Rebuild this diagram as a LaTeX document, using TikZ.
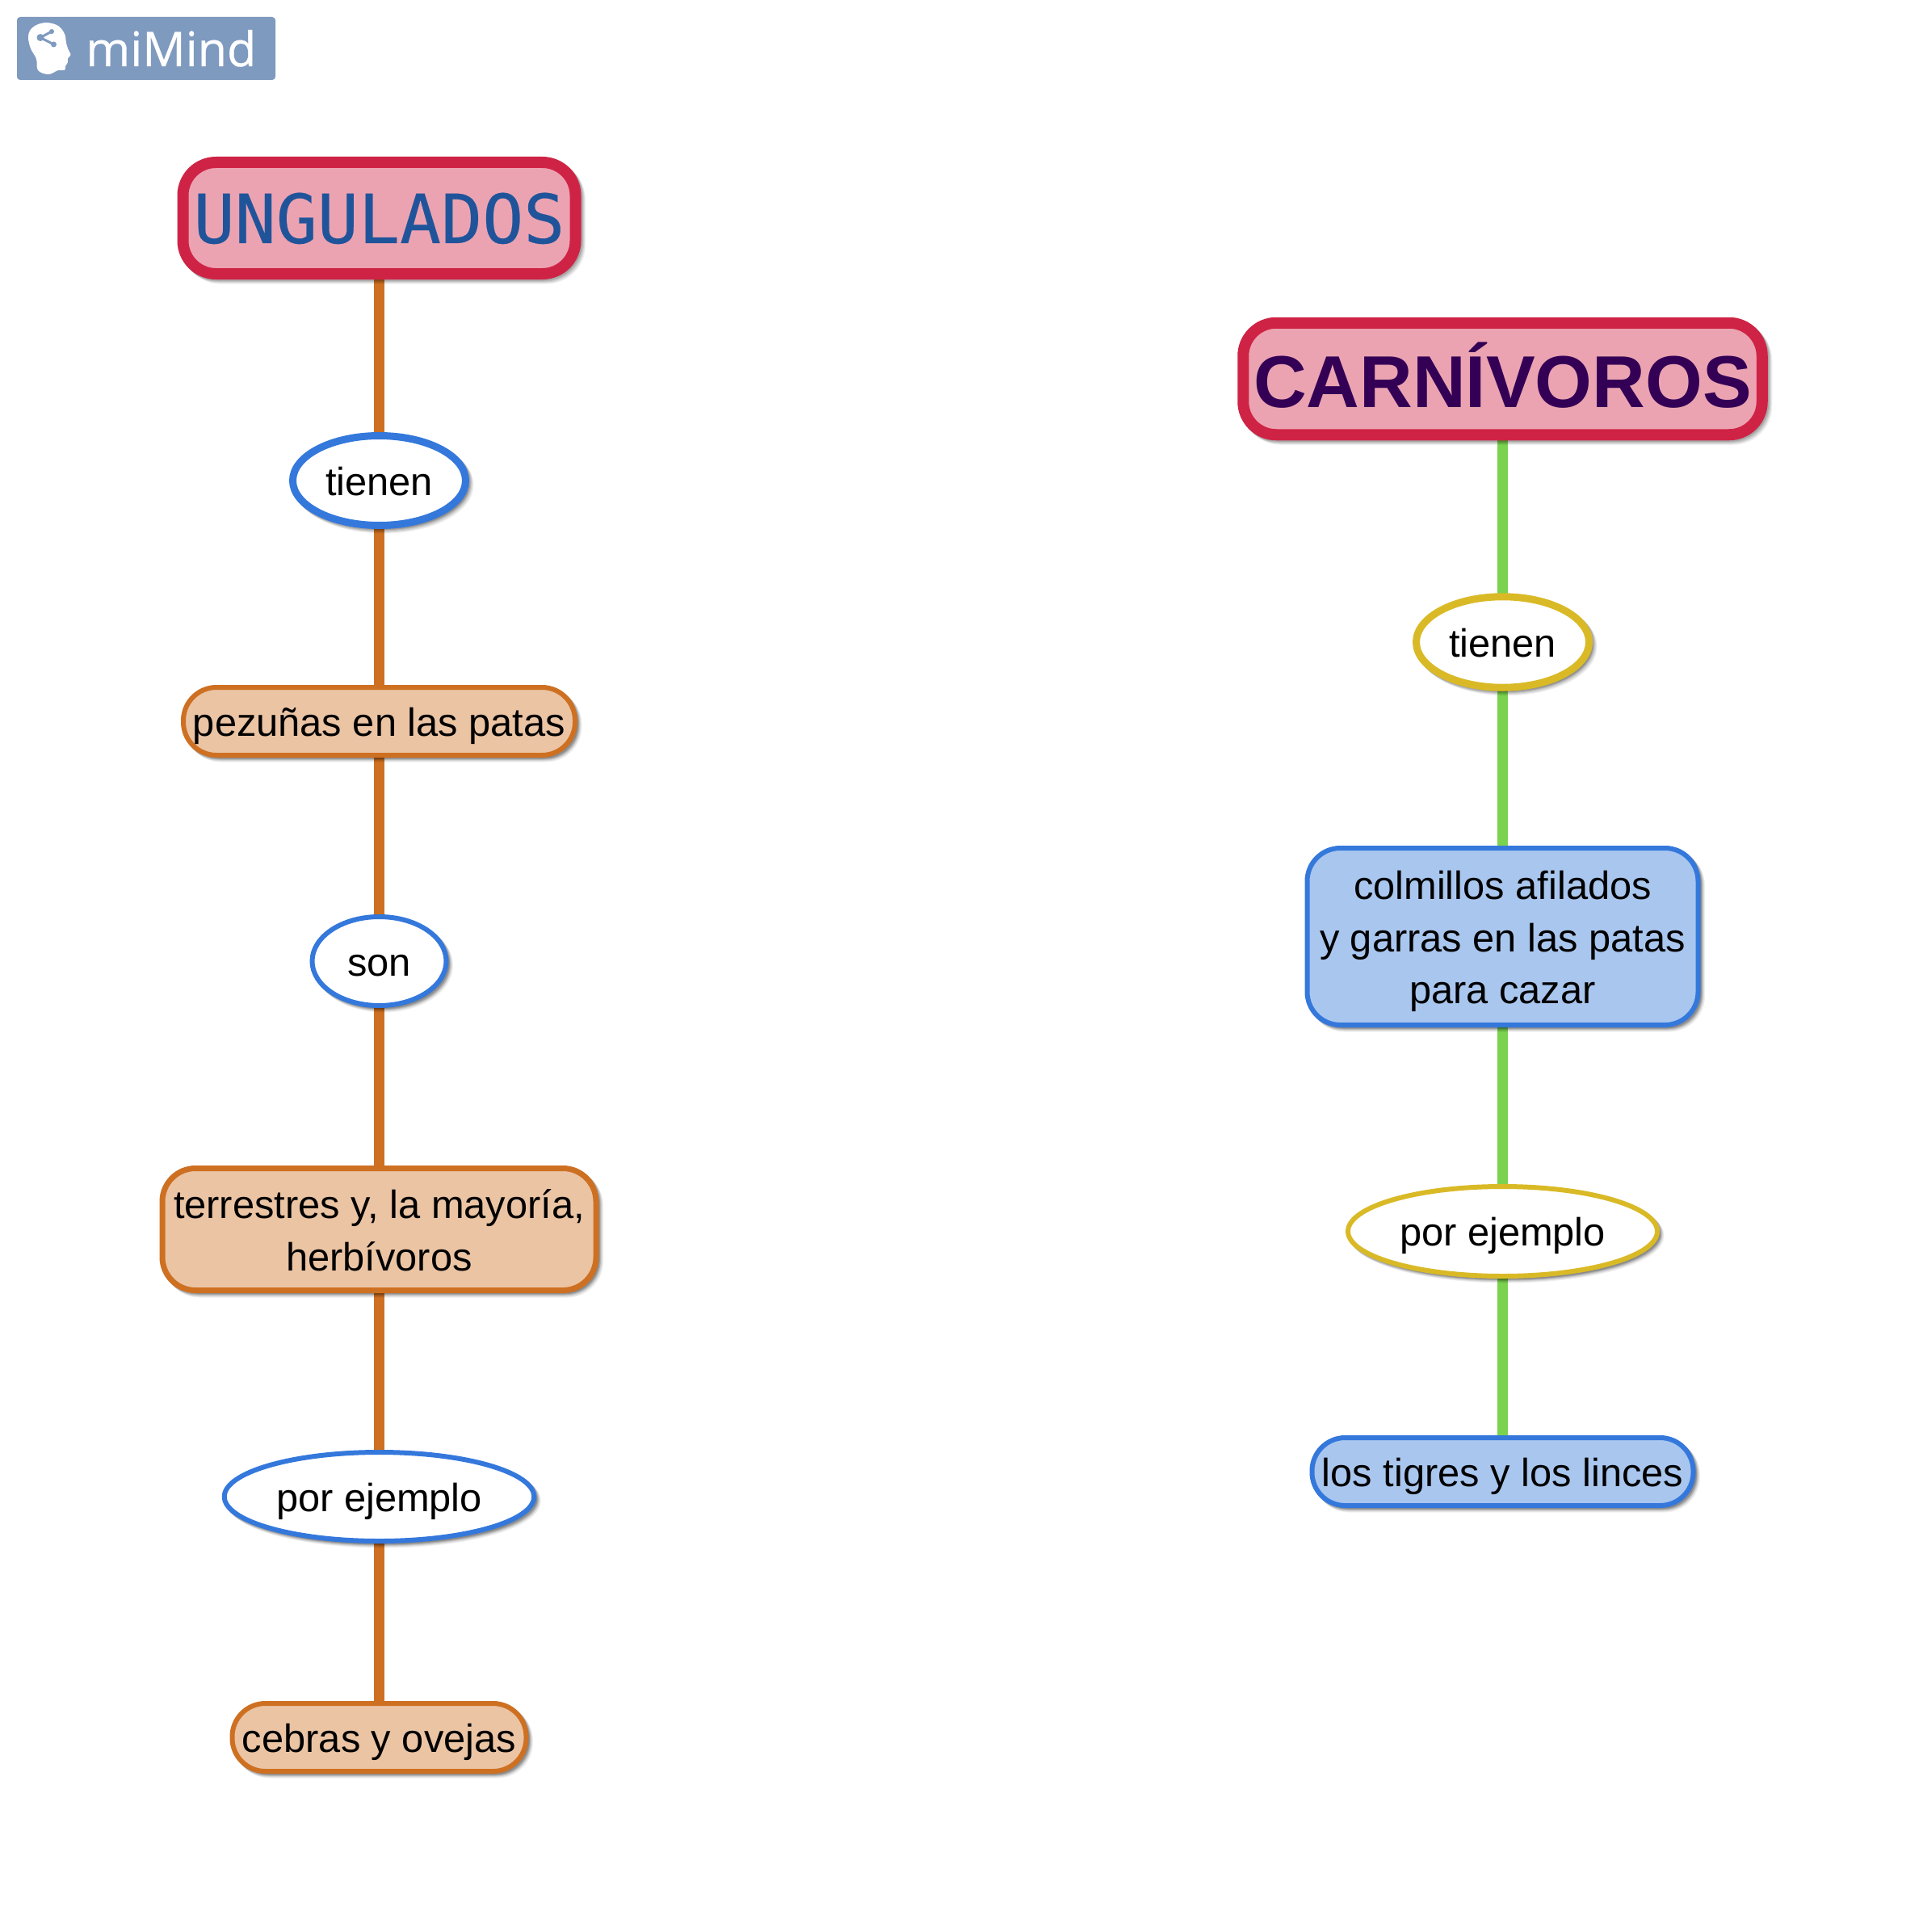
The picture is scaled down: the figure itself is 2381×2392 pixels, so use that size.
\documentclass[tikz,border=0pt]{standalone}
\usepackage{fontspec}
\setmainfont{Liberation Sans}
\newfontfamily\logofont[FakeBold=0.6]{Open Sans}
\newfontfamily\ungfont[FakeStretch=1.01,FakeBold=0.3]{DejaVu Sans Mono}
\usetikzlibrary{shapes.geometric,shadows,backgrounds}
\definecolor{orangeC}{HTML}{CE7022}
\definecolor{orangeF}{HTML}{EBC4A4}
\definecolor{redC}{HTML}{CF2345}
\definecolor{redF}{HTML}{ECA3B1}
\definecolor{blueC}{HTML}{3478DC}
\definecolor{blueF}{HTML}{A9C6EE}
\definecolor{yellowC}{HTML}{D9BA26}
\definecolor{greenC}{HTML}{7BD24F}
\definecolor{purpleT}{HTML}{330055}
\definecolor{ungT}{HTML}{20549A}
\definecolor{logoC}{HTML}{7F9ABF}
\tikzset{
  softshadow/.style={
    general shadow={draw=black,fill=black,opacity=.06,shadow xshift=5.5pt,shadow yshift=-5.5pt},
    general shadow={draw=black,fill=black,opacity=.07,shadow xshift=4.5pt,shadow yshift=-4.5pt},
    general shadow={draw=black,fill=black,opacity=.08,shadow xshift=3.5pt,shadow yshift=-3.5pt},
    general shadow={draw=black,fill=black,opacity=.09,shadow xshift=2.5pt,shadow yshift=-2.5pt},
    general shadow={draw=black,fill=black,opacity=.10,shadow xshift=1.5pt,shadow yshift=-1.5pt}},
  base/.style={softshadow,inner sep=0pt,outer sep=0pt,align=center,text=black,
    font=\fontsize{48.8pt}{64.5pt}\selectfont},
  box/.style={base,rectangle,rounded corners=41pt},
  oval/.style={base,ellipse,fill=white},
  oneline/.style={text height=36pt,text depth=0pt},
  orangebox/.style={box,draw=orangeC,fill=orangeF},
  bluebox/.style={box,draw=blueC,fill=blueF},
  titlebox/.style={box,draw=redC,fill=redF,line width=14pt},
  blueoval/.style={oval,draw=blueC},
  yellowoval/.style={oval,draw=yellowC},
  orangelink/.style={draw=orangeC,line width=13pt},
  greenlink/.style={draw=greenC,line width=13pt}
}
\begin{document}
\begin{tikzpicture}[x=1pt,y=-1pt]
\useasboundingbox (0,0) rectangle (2381,2392);
% logo
\fill[logoC,rounded corners=4pt] (21,21) rectangle (341,99);
\fill[white] plot[smooth cycle,tension=.6] coordinates {(47,87)(45,73)(38,60)(35,47)(37,38)(45,31)(58,28)(72,32)(80,42)(82,53)(84,60)(87.5,68)(84,72)(84,77)(81,82)(80,87)(72,87)(60,92)};
\draw[logoC,line width=3pt] (50,46.5) -- (64,39) (50,46.5) -- (66.5,55);
\fill[logoC] (50,46.5) circle (4.5pt) (64,39) circle (3pt) (66.5,55) circle (3.5pt);
\node[anchor=base west,inner sep=0pt,text=white,font=\logofont\fontsize{59.2pt}{59.2pt}\selectfont] (logo) at (106,82) {miMind};
% left column
\node[titlebox,minimum width=486pt,minimum height=138pt,text=ungT,text height=62pt,text depth=0pt,font=\ungfont\fontsize{84pt}{84pt}\selectfont] (ung) at (469.5,270) {UNGULADOS};
\node[blueoval,line width=9pt,minimum width=214pt,minimum height=111pt,oneline] (tl) at (469.5,595) {tienen};
\node[orangebox,line width=6pt,minimum width=485pt,minimum height=84pt,oneline] (pez) at (469.5,893) {pezuñas en las patas};
\node[blueoval,line width=6pt,minimum width=166pt,minimum height=110pt,oneline] (son) at (469.5,1190) {son};
\node[orangebox,line width=7pt,minimum width=537pt,minimum height=151pt,text height=102pt,text depth=0pt] (terr) at (469.5,1522) {terrestres y, la mayoría,\\herbívoros};
\node[blueoval,line width=6pt,minimum width=383.5pt,minimum height=110pt,oneline] (pl) at (469.5,1853) {por ejemplo};
\node[orangebox,line width=6pt,minimum width=364pt,minimum height=84pt,oneline] (ceb) at (469.5,2151) {cebras y ovejas};
% right column
\node[titlebox,minimum width=642.5pt,minimum height=138.5pt,text=purpleT,text height=70pt,text depth=0pt,font=\bfseries\fontsize{91pt}{91pt}\selectfont] (car) at (1860.5,469) {CARNÍVOROS};
\node[yellowoval,line width=9pt,minimum width=214pt,minimum height=112.5pt,oneline] (tr) at (1860.5,795) {tienen};
\node[bluebox,line width=6pt,minimum width=484pt,minimum height=219pt,text height=166pt,text depth=0pt] (col) at (1860.5,1159.5) {colmillos afilados\\y garras en las patas\\para cazar};
\node[yellowoval,line width=6pt,minimum width=383pt,minimum height=111pt,oneline] (pr) at (1860.5,1524.5) {por ejemplo};
\node[bluebox,line width=6pt,minimum width=472pt,minimum height=84pt,oneline] (tig) at (1860.5,1822) {los tigres y los linces};
% connectors
\begin{pgfonlayer}{background}
\draw[orangelink] (ung) -- (tl);
\draw[orangelink] (tl) -- (pez);
\draw[orangelink] (pez) -- (son);
\draw[orangelink] (son) -- (terr);
\draw[orangelink] (terr) -- (pl);
\draw[orangelink] (pl) -- (ceb);
\draw[greenlink] (car) -- (tr);
\draw[greenlink] (tr) -- (col);
\draw[greenlink] (col) -- (pr);
\draw[greenlink] (pr) -- (tig);
\end{pgfonlayer}
\end{tikzpicture}
\end{document}
